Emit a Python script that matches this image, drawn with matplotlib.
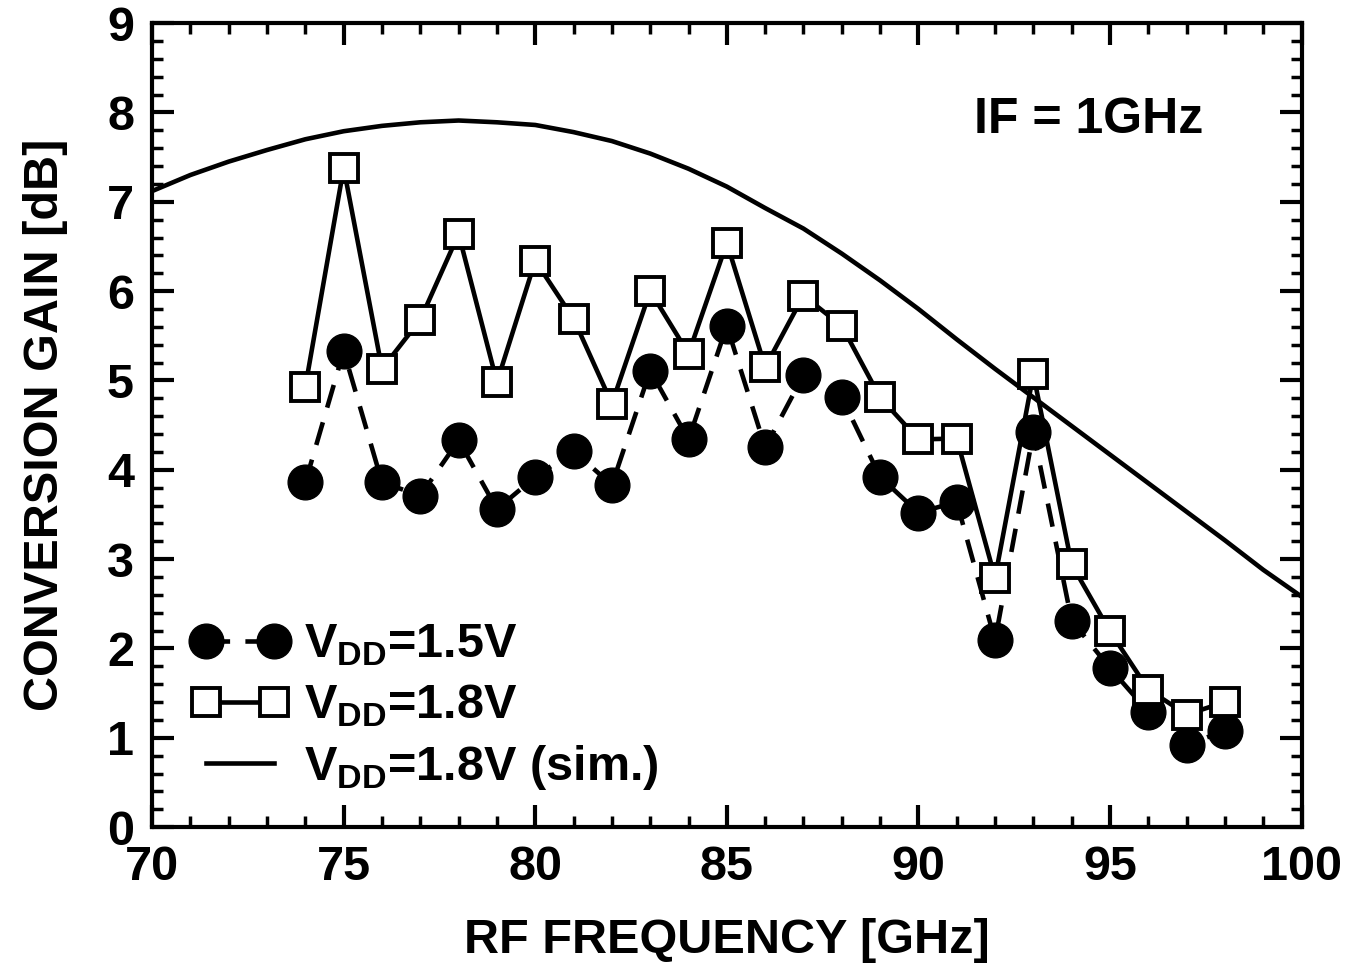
import matplotlib
matplotlib.use("Agg")
import matplotlib.pyplot as plt
from matplotlib.ticker import MultipleLocator

plt.rcParams["font.family"] = ["Liberation Sans", "DejaVu Sans"]
plt.rcParams["font.weight"] = "bold"
plt.rcParams["mathtext.fontset"] = "custom"
plt.rcParams["mathtext.rm"] = "Liberation Sans:bold"
plt.rcParams["mathtext.bf"] = "Liberation Sans:bold"
plt.rcParams["lines.scale_dashes"] = False

# measured data
freq = [74, 75, 76, 77, 78, 79, 80, 81, 82, 83, 84, 85, 86,
        87, 88, 89, 90, 91, 92, 93, 94, 95, 96, 97, 98]
gain_15 = [3.86, 5.33, 3.86, 3.71, 4.33, 3.56, 3.92, 4.21, 3.83, 5.11, 4.34, 5.61, 4.25,
           5.06, 4.81, 3.92, 3.52, 3.64, 2.09, 4.42, 2.31, 1.78, 1.29, 0.92, 1.08]
gain_18 = [4.93, 7.38, 5.13, 5.68, 6.64, 4.98, 6.34, 5.69, 4.74, 6.00, 5.30, 6.54, 5.15,
           5.95, 5.61, 4.81, 4.34, 4.35, 2.79, 5.07, 2.94, 2.19, 1.54, 1.26, 1.40]

# simulation
freq_sim = list(range(70, 101))
gain_sim = [7.12, 7.30, 7.45, 7.58, 7.70, 7.79, 7.85, 7.89, 7.91, 7.89, 7.86,
            7.78, 7.68, 7.54, 7.37, 7.17, 6.93, 6.70, 6.42, 6.12, 5.80, 5.46,
            5.13, 4.81, 4.49, 4.17, 3.85, 3.53, 3.21, 2.88, 2.58]

fig = plt.figure(figsize=(13.46, 9.64), dpi=100)
ax = fig.add_axes([0.113, 0.142, 0.854, 0.834])

ax.plot(freq, gain_15, color="black", lw=3.3, linestyle=(0, (17, 11)),
        marker="o", ms=25, mfc="black", mec="black",
        label=r"V$_{\rm DD}$=1.5V", zorder=3)
ax.plot(freq, gain_18, color="black", lw=3.3, linestyle="-",
        marker="s", ms=20, mfc="white", mec="black", mew=2.8,
        label=r"V$_{\rm DD}$=1.8V", zorder=4)
ax.plot(freq_sim, gain_sim, color="black", lw=3.3, label=r"V$_{\rm DD}$=1.8V (sim.)",
        zorder=2)

ax.set_xlim(70, 100)
ax.set_ylim(0, 9)
ax.xaxis.set_major_locator(MultipleLocator(5))
ax.xaxis.set_minor_locator(MultipleLocator(1))
ax.yaxis.set_major_locator(MultipleLocator(1))
ax.yaxis.set_minor_locator(MultipleLocator(0.2))
ax.tick_params(which="both", direction="in", top=True, right=True, labelsize=35)
ax.tick_params(which="major", length=16, width=3, pad=13)
ax.tick_params(which="minor", length=8, width=2.5)
for s in ax.spines.values():
    s.set_linewidth(3)

ax.set_xlabel("RF FREQUENCY [GHz]", fontsize=35, fontweight="bold", labelpad=20)
ax.set_ylabel("CONVERSION GAIN [dB]", fontsize=35, fontweight="bold", labelpad=28)

ax.text(91.45, 7.92, "IF = 1GHz", fontsize=36, fontweight="bold", ha="left", va="center")

ax.legend(loc="lower left", bbox_to_anchor=(0.0, -0.005), frameon=False,
          fontsize=35, numpoints=2, handlelength=2.0, handletextpad=0.33,
          labelspacing=0.3, borderpad=0.3)

fig.savefig("out.png", dpi=100)
